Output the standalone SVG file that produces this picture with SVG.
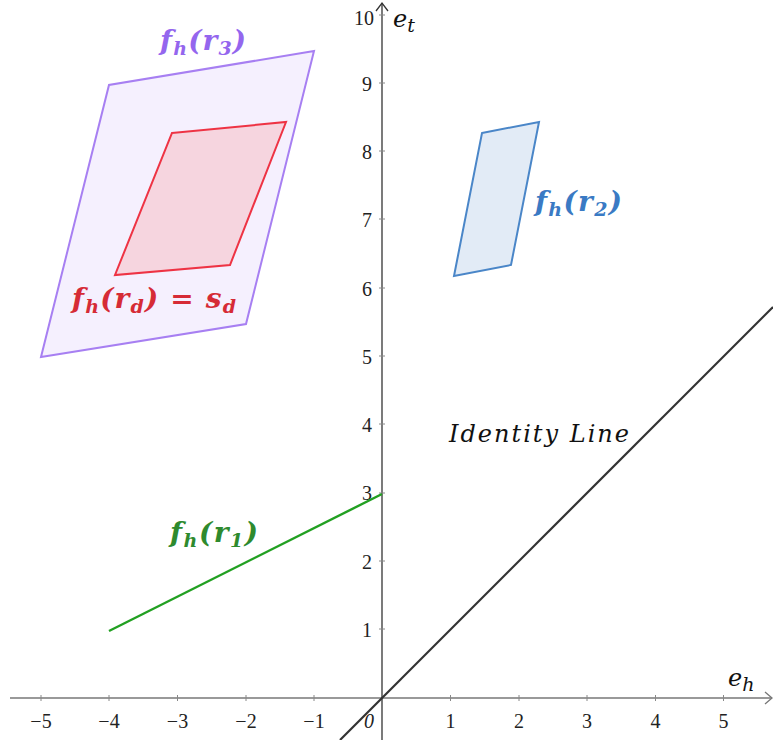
<svg xmlns="http://www.w3.org/2000/svg" width="773" height="740" viewBox="0 0 773 740">
<style>
.ax{stroke:#333;stroke-width:1.3;fill:none}
.axh{stroke:#777;stroke-width:1.3;fill:none}
.tick{stroke:#888;stroke-width:1}
.m{font-family:"DejaVu Serif",serif;font-style:italic;font-weight:bold;font-size:28px}
.s{font-size:19px}
.it{font-family:"DejaVu Serif",serif;font-style:italic;font-size:24px;fill:#111}
</style>
<rect width="773" height="740" fill="#fff"/>
<g id="axes">
<line class="axh" x1="10" y1="698" x2="772" y2="698"/>
<polyline class="axh" points="765,692 772,698 765,704"/>
<line class="ax" x1="382" y1="740" x2="382" y2="3"/>
<polyline class="ax" points="376,11 382,3 388,11"/>
<g class="tick">
<line x1="41" y1="695" x2="41" y2="701"/><line x1="109" y1="695" x2="109" y2="701"/><line x1="177.5" y1="695" x2="177.5" y2="701"/><line x1="246" y1="695" x2="246" y2="701"/><line x1="314" y1="695" x2="314" y2="701"/>
<line x1="450.5" y1="695" x2="450.5" y2="701"/><line x1="519" y1="695" x2="519" y2="701"/><line x1="587" y1="695" x2="587" y2="701"/><line x1="655.5" y1="695" x2="655.5" y2="701"/><line x1="723.5" y1="695" x2="723.5" y2="701"/>
<line x1="379" y1="629" x2="385" y2="629"/><line x1="379" y1="561" x2="385" y2="561"/><line x1="379" y1="493" x2="385" y2="493"/><line x1="379" y1="424" x2="385" y2="424"/><line x1="379" y1="356" x2="385" y2="356"/><line x1="379" y1="288" x2="385" y2="288"/><line x1="379" y1="219" x2="385" y2="219"/><line x1="379" y1="151" x2="385" y2="151"/><line x1="379" y1="83" x2="385" y2="83"/><line x1="379" y1="15" x2="385" y2="15"/>
</g>
<g font-family="'Liberation Serif', 'Times New Roman', serif" font-size="20" fill="#222" text-anchor="middle">
<text x="41" y="728">−5</text><text x="109" y="728">−4</text><text x="177.5" y="728">−3</text><text x="246" y="728">−2</text><text x="314" y="728">−1</text>
<text x="369" y="728" font-style="italic">0</text>
<text x="450.5" y="728">1</text><text x="519" y="728">2</text><text x="587" y="728">3</text><text x="655.5" y="728">4</text><text x="723.5" y="728">5</text>
</g>
<g font-family="'Liberation Serif', 'Times New Roman', serif" font-size="20" fill="#222" text-anchor="end">
<text x="372" y="637">1</text><text x="372" y="569">2</text><text x="372" y="500">3</text><text x="372" y="432">4</text><text x="372" y="364">5</text><text x="372" y="296">6</text><text x="372" y="227">7</text><text x="372" y="159">8</text><text x="372" y="91">9</text><text x="374" y="25">10</text>
</g>
<text class="it" x="393" y="27" font-size="27">e<tspan class="s" dy="5">t</tspan></text>
<text class="it" x="728" y="686" font-size="27">e<tspan class="s" dy="5">h</tspan></text>
</g>
<g id="connectors">
<line id="identity" x1="340" y1="740" x2="773" y2="307" stroke="#333" stroke-width="2.2"/>
</g>
<g id="r3">
<polygon points="41,357 109,85 314,51 246,324" fill="#f5f0fe" stroke="#a77ff2" stroke-width="2"/>
<text class="m" x="160" y="50" fill="#9466ee" textLength="86" lengthAdjust="spacing">f<tspan class="s" dy="5">h</tspan><tspan dy="-5">(r</tspan><tspan class="s" dy="5">3</tspan><tspan dy="-5">)</tspan></text>
</g>
<g id="rd">
<polygon points="172,133 286,122 230,265 115,275" fill="#f6d5df" stroke="#ee3344" stroke-width="2"/>
<text class="m" x="72" y="308" fill="#d62b36" textLength="164" lengthAdjust="spacing">f<tspan class="s" dy="5">h</tspan><tspan dy="-5">(r</tspan><tspan class="s" dy="5">d</tspan><tspan dy="-5">) = s</tspan><tspan class="s" dy="5">d</tspan></text>
</g>
<g id="r2">
<polygon points="482,133 539,122 511,265 454,276" fill="#e2ebf6" stroke="#4a86c8" stroke-width="2"/>
<text class="m" x="535" y="211" fill="#3a7ac4" textLength="87" lengthAdjust="spacing">f<tspan class="s" dy="5">h</tspan><tspan dy="-5">(r</tspan><tspan class="s" dy="5">2</tspan><tspan dy="-5">)</tspan></text>
</g>
<g id="r1">
<line x1="109" y1="631" x2="382" y2="494" stroke="#22a022" stroke-width="2.4"/>
<text class="m" x="170" y="542" fill="#2e8a2e" textLength="88" lengthAdjust="spacing">f<tspan class="s" dy="5">h</tspan><tspan dy="-5">(r</tspan><tspan class="s" dy="5">1</tspan><tspan dy="-5">)</tspan></text>
</g>
<g id="identity-label">
<text class="it" x="449" y="442" textLength="180" lengthAdjust="spacing">Identity Line</text>
</g>
</svg>
